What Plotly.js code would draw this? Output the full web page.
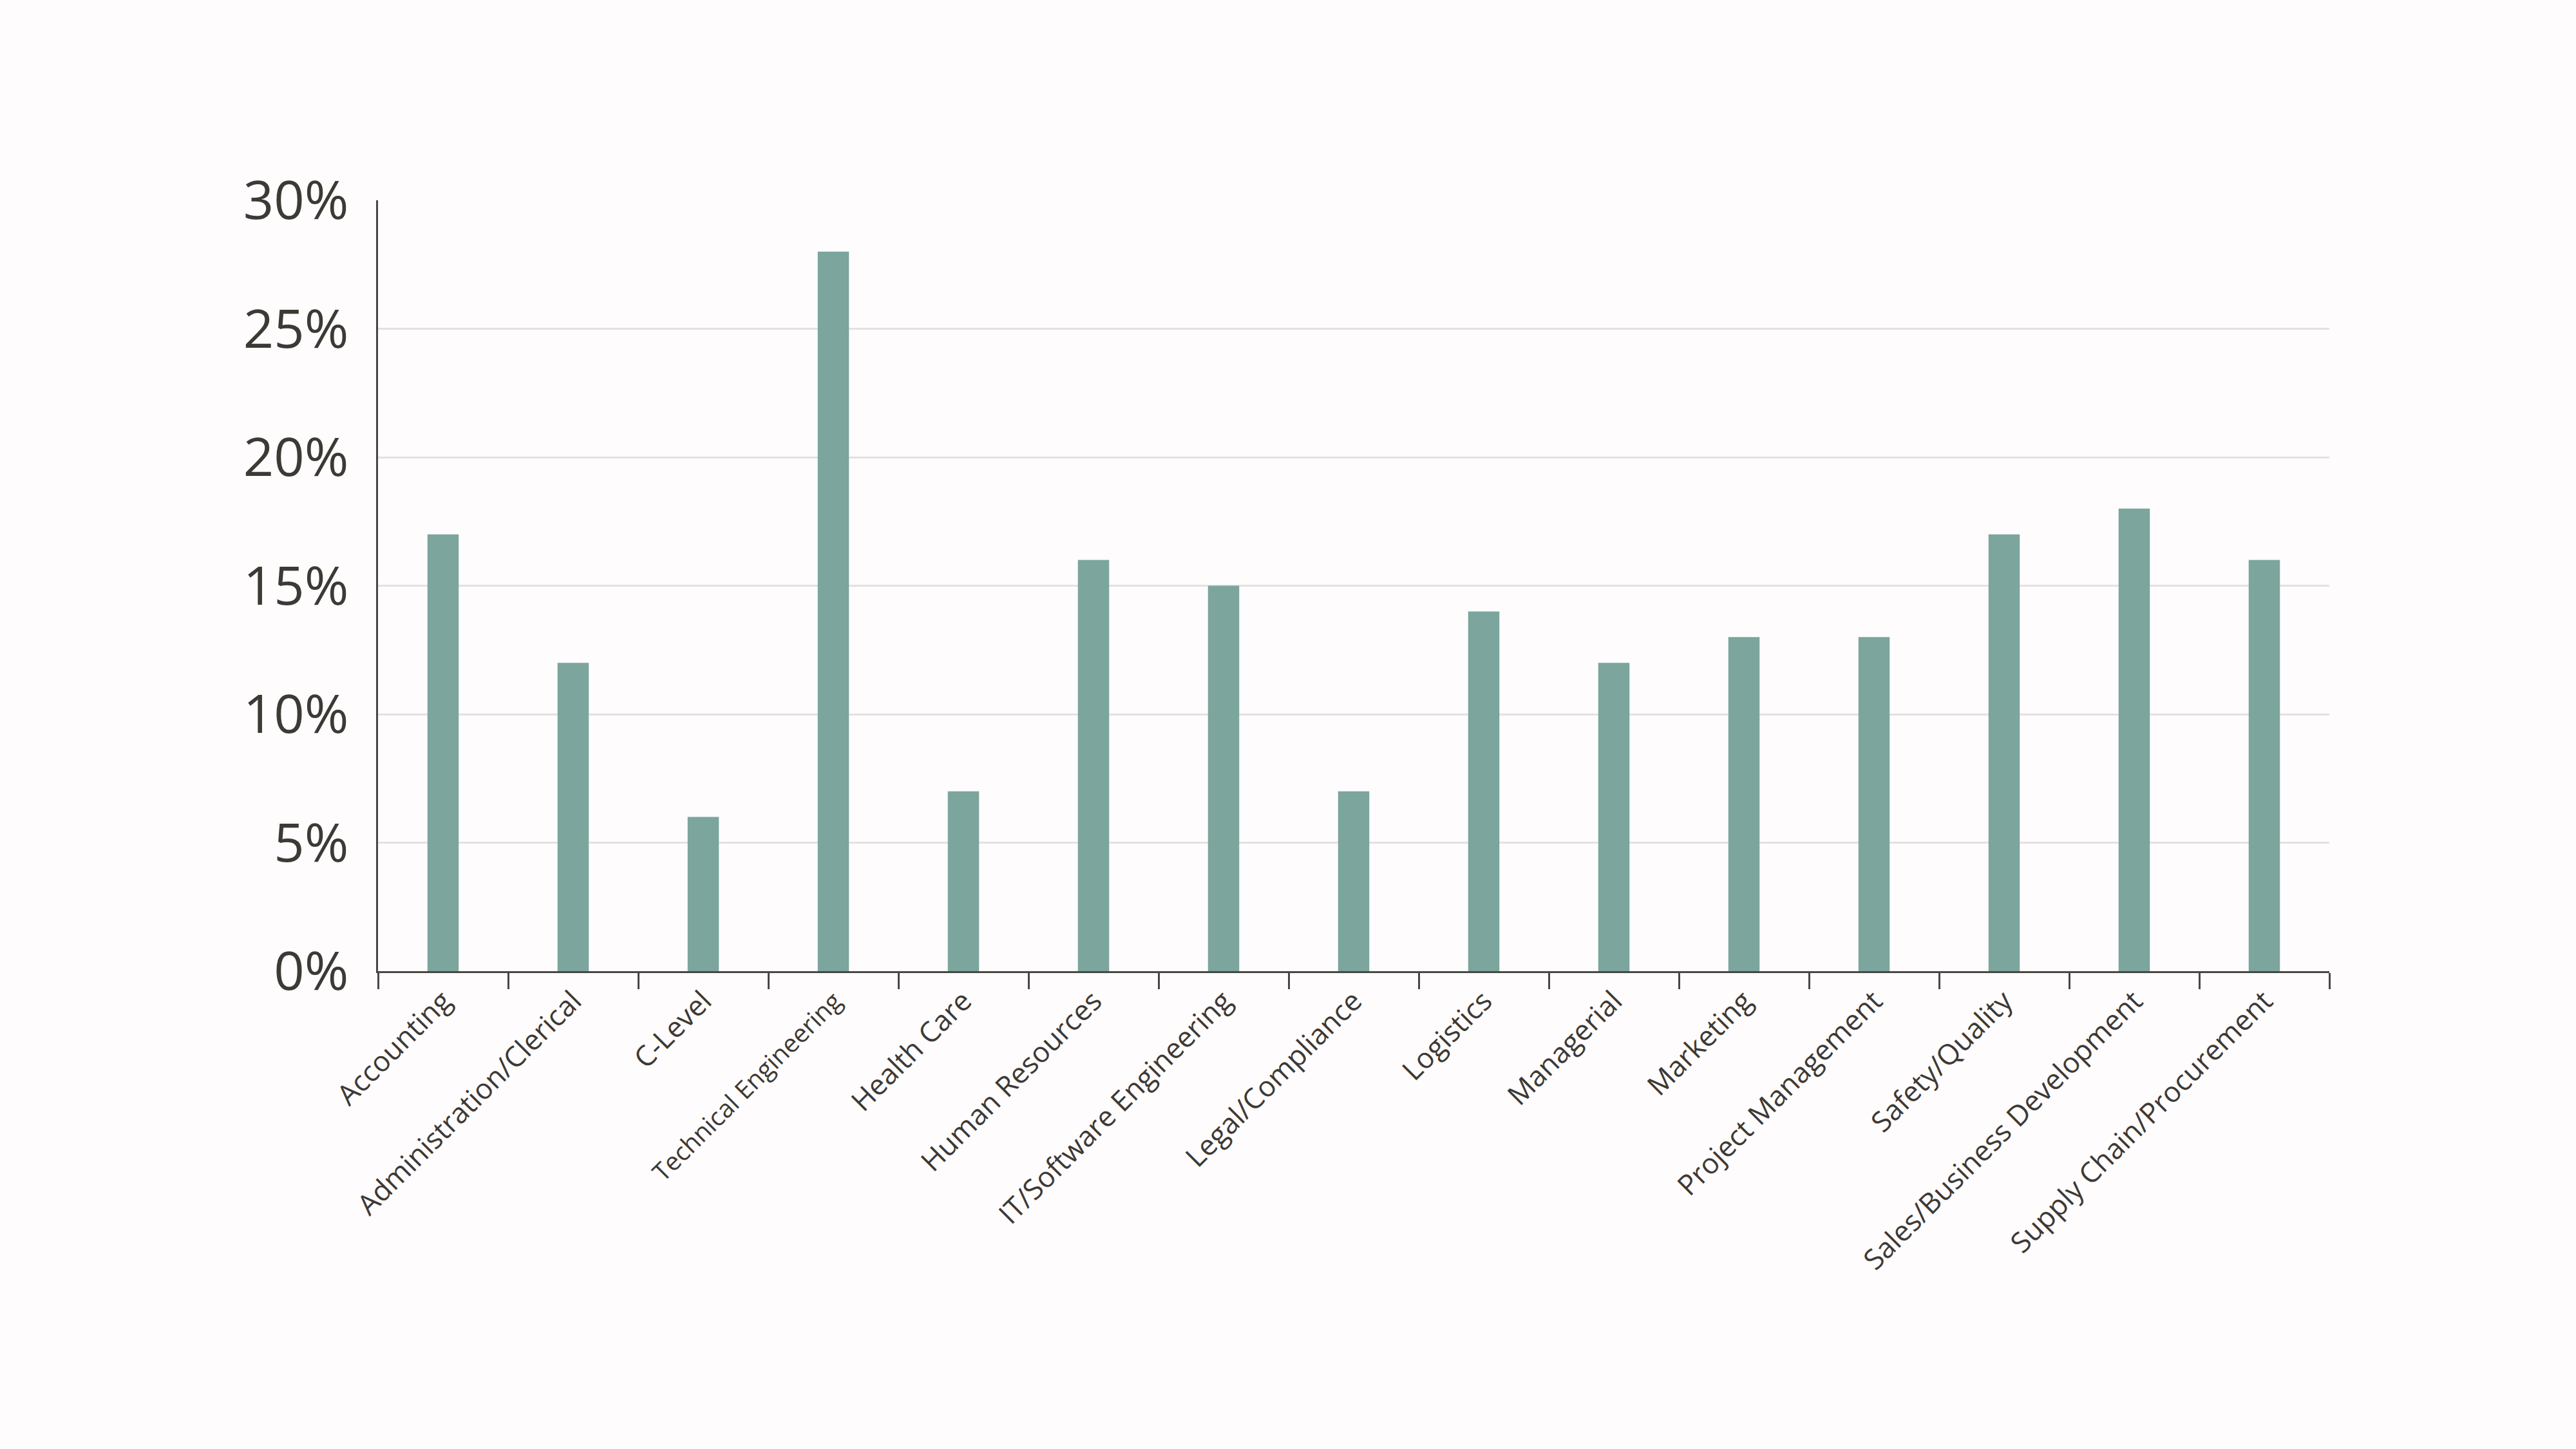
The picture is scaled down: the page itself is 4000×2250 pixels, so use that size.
<!DOCTYPE html>
<html>
<head>
<meta charset="utf-8">
<script src="https://cdn.plot.ly/plotly-3.0.1.min.js"></script>
<style>
html,body{margin:0;padding:0;background:#fefcfc;}
#chart{width:4000px;height:2250px;}
</style>
</head>
<body>
<div id="chart"></div>
<script>
const categories = [
  "Accounting", "Administration/Clerical", "C-Level", "Technical Engineering",
  "Health Care", "Human Resources", "IT/Software Engineering", "Legal/Compliance",
  "Logistics", "Managerial", "Marketing", "Project Management",
  "Safety/Quality", "Sales/Business Development", "Supply Chain/Procurement"
];
const values = [17, 12, 6, 28, 7, 16, 15, 7, 14, 12, 13, 13, 17, 18, 16];
const yTickVals = [0, 5, 10, 15, 20, 25, 30];
const yTickText = ["0%", "5%", "10%", "15%", "20%", "25%", "30%"];
const smallerLabels = ["Technical Engineering"];

const textColor = "#3d3935";
const xTickText = categories.map(c =>
  smallerLabels.includes(c) ? '<span style="font-size:39px">' + c + '</span>' : c);

const trace = {
  type: "bar",
  x: categories,
  y: values,
  marker: {color: "#7ba59d"},
  hoverinfo: "x+y"
};

const layout = {
  width: 4000,
  height: 2250,
  paper_bgcolor: "#fefcfc",
  plot_bgcolor: "#fefcfc",
  margin: {l: 587, r: 383, t: 311, b: 742, pad: 0},
  bargap: 0.76,
  showlegend: false,
  font: {family: "Open Sans, sans-serif", color: textColor},
  xaxis: {
    type: "category",
    tickmode: "array",
    tickvals: categories,
    ticktext: xTickText,
    tickangle: -45,
    tickfont: {size: 44, color: textColor},
    showline: true,
    linecolor: "#4a4643",
    linewidth: 3,
    ticks: "outside",
    tickson: "boundaries",
    ticklen: 25,
    tickwidth: 3,
    tickcolor: "#4a4643",
    showgrid: false,
    zeroline: false
  },
  yaxis: {
    range: [0, 30],
    tickvals: yTickVals,
    ticktext: yTickText,
    tickfont: {size: 83, color: textColor},
    showline: true,
    linecolor: "#4a4643",
    linewidth: 3,
    ticks: "",
    ticklabelstandoff: 26,
    showgrid: true,
    gridcolor: "#e4e1e1",
    gridwidth: 3,
    zeroline: false
  }
};

Plotly.newPlot("chart", [trace], layout, {displayModeBar: false, staticPlot: true});
</script>
</body>
</html>
